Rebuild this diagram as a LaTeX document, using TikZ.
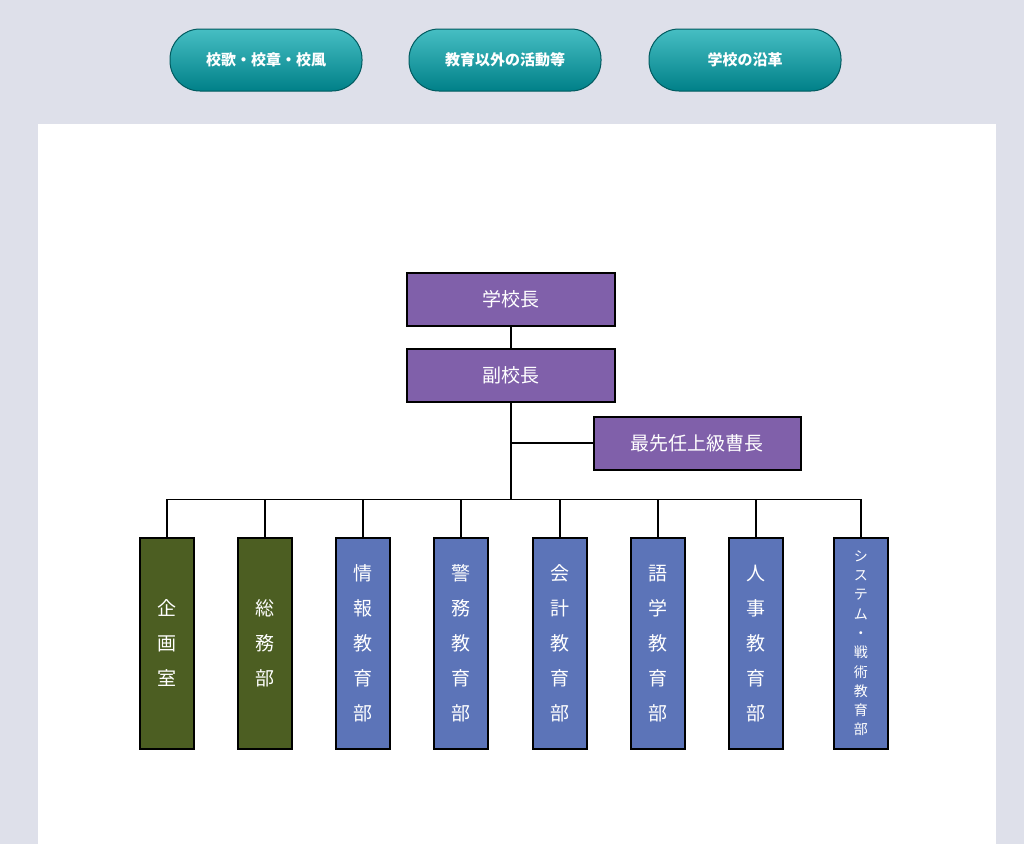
\documentclass[tikz,border=0pt]{standalone}
\usepackage{fontspec}
\newfontfamily\cjk{Noto Sans CJK JP}
\definecolor{bgc}{RGB}{222,224,234}
\definecolor{purp}{RGB}{128,96,170}
\definecolor{olive}{RGB}{76,94,34}
\definecolor{blu}{RGB}{92,116,184}
\definecolor{teal1}{RGB}{0,128,136}
\definecolor{teal2}{RGB}{70,190,195}
\tikzset{
 box/.style={draw=black,line width=1.5pt,text=white,inner sep=0pt,anchor=north west},
 lbl/.style={text=white,font=\cjk\fontsize{19}{19}\selectfont},
 pill/.style={rounded corners=30pt,top color=teal2,bottom color=teal1,draw=teal1!70!black,line width=1pt,minimum width=192pt,minimum height=62pt,text=white,font=\cjk\bfseries\fontsize{15}{15}\selectfont},
 conn/.style={line width=1.8pt}
}
\newcommand{\colbox}[4]{\node[box,fill=#2,minimum width=54pt,minimum height=211pt] (#1) at (#3-27,-537) {};
\node[text=white,font=\cjk\fontsize{19}{35}\selectfont,align=center] at (#1.center) {#4};}
\begin{document}
\begin{tikzpicture}[x=1pt,y=1pt]
\fill[bgc] (0,0) rectangle (1024,-844);
\useasboundingbox (0,0) rectangle (1024,-844);
\fill[white] (38,-124) rectangle (996,-844);
\node[pill] (b1) at (266,-60) {校歌・校章・校風};
\node[pill] (b2) at (505,-60) {教育以外の活動等};
\node[pill] (b3) at (745,-60) {学校の沿革};
\node[box,fill=purp,minimum width=208pt,minimum height=53pt] (k) at (406,-272) {};
\node[lbl] at (k.center) {学校長};
\node[box,fill=purp,minimum width=208pt,minimum height=53pt] (f) at (406,-348) {};
\node[lbl] at (f.center) {副校長};
\node[box,fill=purp,minimum width=207pt,minimum height=53pt] (s) at (593,-416) {};
\node[lbl] at (s.center) {最先任上級曹長};
\draw[conn] (k.south) -- (f.north);
\path (f.south) ++(0,-97) coordinate (j);
\path (f.south |- s.west) coordinate (js);
\draw[conn] (f.south) -- (j);
\draw[conn] (js) -- (s.west);
\colbox{c1}{olive}{166}{企\\画\\室}
\colbox{c2}{olive}{264}{総\\務\\部}
\colbox{c3}{blu}{362}{情\\報\\教\\育\\部}
\colbox{c4}{blu}{460}{警\\務\\教\\育\\部}
\colbox{c5}{blu}{559}{会\\計\\教\\育\\部}
\colbox{c6}{blu}{657}{語\\学\\教\\育\\部}
\colbox{c7}{blu}{755}{人\\事\\教\\育\\部}
\node[box,fill=blu,minimum width=54pt,minimum height=211pt] (c8) at (833,-537) {};
\node[text=white,font=\cjk\fontsize{14}{19.3}\selectfont,align=center] at (c8.center) {シ\\ス\\テ\\ム\\・\\戦\\術\\教\\育\\部};
\draw[conn] (c1.north) |- (j) -| (c8.north);
\foreach \n in {c2,c3,c4,c5,c6,c7} \draw[conn] (\n.north) -- (\n.north |- j);
\end{tikzpicture}
\end{document}
